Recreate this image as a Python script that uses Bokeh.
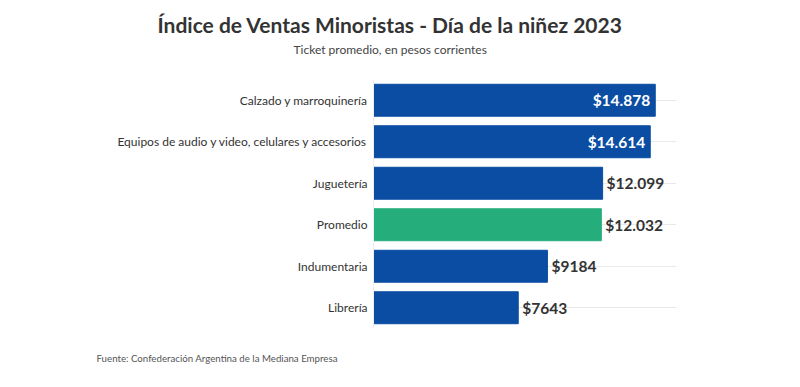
from bokeh.plotting import figure
from bokeh.models import ColumnDataSource, FactorRange, Range1d, LabelSet, Title
from bokeh.core.properties import value
from bokeh.embed import file_html
from bokeh.resources import INLINE

categories = ["Calzado y marroquinería",
              "Equipos de audio y video, celulares y accesorios",
              "Juguetería", "Promedio", "Indumentaria", "Librería"]
values = [14878, 14614, 12099, 12032, 9184, 7643]
highlight = "Promedio"

BLUE = "#0A4DA3"
GREEN = "#26AD7C"
FONT = "Lato"
XMAX = 16000


def fmt(v):
    if v >= 10000:
        return "$" + f"{v:,}".replace(",", ".")
    return f"${v}"


labels = [fmt(v) for v in values]
colors = [GREEN if c == highlight else BLUE for c in categories]
inside = [v > 14000 for v in values]

src = ColumnDataSource(dict(cat=categories, val=values, color=colors, lab=labels))
src_in = ColumnDataSource(dict(cat=[c for c, i in zip(categories, inside) if i],
                               val=[v for v, i in zip(values, inside) if i],
                               lab=[l for l, i in zip(labels, inside) if i]))
src_out = ColumnDataSource(dict(cat=[c for c, i in zip(categories, inside) if not i],
                                val=[v for v, i in zip(values, inside) if not i],
                                lab=[l for l, i in zip(labels, inside) if not i]))

W, H = 784, 387
FRAME_W = 303
FRAME_H = 249
LEFT, TOP = 373, 79
p = figure(width=W, height=H, output_backend="svg", toolbar_location=None,
           y_range=FactorRange(*categories[::-1], range_padding=0),
           x_range=Range1d(0, XMAX),
           frame_width=FRAME_W, frame_height=FRAME_H,
           min_border_left=LEFT, min_border_right=W - LEFT - FRAME_W,
           min_border_top=TOP, min_border_bottom=H - TOP - FRAME_H)
p.outline_line_color = None
p.background_fill_color = "white"
p.border_fill_color = "white"

p.hbar(y="cat", right="val", height=0.77, color="color", source=src)

p.add_layout(LabelSet(x="val", y="cat", text="lab", source=src_in, x_offset=-5,
                      text_align="right", text_baseline="middle",
                      text_color="white", text_font=value(FONT), text_font_style="bold",
                      text_font_size="15.5px"))
p.add_layout(LabelSet(x="val", y="cat", text="lab", source=src_out, x_offset=4,
                      text_align="left", text_baseline="middle",
                      text_color="#333333", text_font=value(FONT), text_font_style="bold",
                      text_font_size="15.5px"))

p.xaxis.visible = False
p.xgrid.grid_line_color = None
p.ygrid.grid_line_color = "#e9e9e9"
p.ygrid.grid_line_width = 1

ya = p.yaxis[0]
ya.axis_line_color = "#eeeeee"
ya.major_tick_line_color = None
ya.minor_tick_line_color = None
ya.major_tick_out = 0
ya.major_tick_in = 0
ya.major_label_standoff = 6
ya.major_label_text_font = FONT
ya.major_label_text_font_size = "12px"
ya.major_label_text_color = "#333333"

spacer = Title(text=" ", text_font_size="10px", standoff=10)
sub = Title(text="Ticket promedio, en pesos corrientes", align="left", offset=-80,
            text_font=FONT, text_font_size="12px", text_font_style="normal",
            text_color="#444444", standoff=0)
main = Title(text="Índice de Ventas Minoristas - Día de la niñez 2023", align="left",
             offset=-216, text_font=FONT, text_font_size="21px", text_font_style="bold",
             text_color="#333333", standoff=5)
p.add_layout(spacer, "above")
p.add_layout(sub, "above")
p.add_layout(main, "above")

src_title = Title(text="Fuente: Confederación Argentina de la Mediana Empresa",
                  align="left", offset=-277, text_font=FONT, text_font_size="9.7px",
                  text_font_style="normal", text_color="#555555", standoff=42)
p.add_layout(src_title, "below")

open("out.html", "w").write(file_html(p, INLINE))
